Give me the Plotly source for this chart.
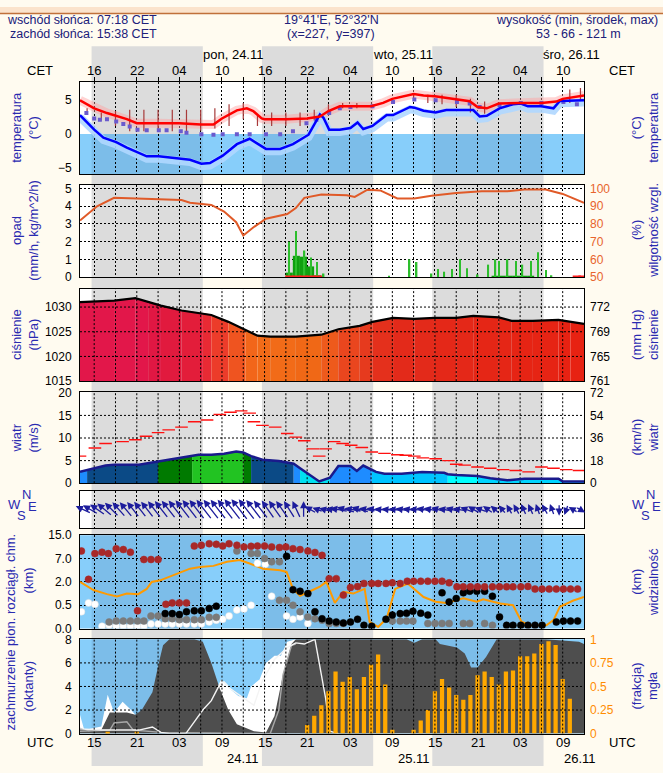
import math
import numpy as np
import plotly.graph_objects as go

# ---------------- time axis (hours after 23.11 13:00 UTC) ----------------
T_END = 71
grid_t = list(range(2, 71, 3))
time_tick_t = [2, 8, 14, 20, 26, 32, 38, 44, 50, 56, 62, 68]
utc_labels = ["15", "21", "03", "09"] * 3
cet_labels = ["16", "22", "04", "10"] * 3
night_start = [1.63, 25.63, 49.63]
night_end = [17.3, 41.3, 65.3]
top_day_labels = ["pon, 24.11", "wto, 25.11", "śro, 26.11"]
bottom_day_labels = ["24.11", "25.11", "26.11"]
bottom_day_t = [23, 47, 70.4]

# ---------------- temperature ----------------
temp_t = [0, 2, 3.8, 5, 6.6, 8, 11, 14, 17, 18.8, 20, 22.1, 23.5, 24.4, 25.6, 26, 29, 32, 33.8, 35,
          36.6, 38, 41, 42.7, 44, 47, 48.4, 50, 53, 54.9, 56, 57.3, 59, 60.6, 62, 65, 67.1, 68, 71]
temp_v = [5.0, 3.8, 3.1, 2.7, 2.2, 1.6, 1.6, 1.6, 1.4, 1.4, 2.3, 3.5, 3.8, 3.4, 2.3, 2.2, 2.2, 2.3, 2.6, 3.4,
          4.1, 4.1, 4.1, 4.6, 5.2, 5.9, 5.7, 5.6, 5.2, 4.85, 4.0, 3.8, 4.5, 4.6, 4.6, 4.6, 4.8, 5.2, 5.7]
dew_t = [0, 2, 3.3, 5.1, 6.6, 8.1, 9.4, 11.1, 12.2, 14.2, 15.5, 17.1, 18.3, 20.1, 22.1, 23.9, 24.9, 26.2,
         28.2, 30.0, 32.2, 33.8, 34.3, 35.1, 36.6, 38.1, 39.1, 39.9, 41.2, 43.2, 44.1, 46.5, 47.1, 48.4,
         50.1, 51.6, 53.1, 55.4, 56.3, 57.3, 59.1, 61.0, 62.1, 63.1, 65.0, 66.7, 67.6, 71]
dew_v = [2.8, 0.65, -0.55, -1.2, -2.0, -2.7, -3.3, -3.3, -3.45, -3.7, -3.8, -4.4, -4.3, -3.2, -1.5, -0.7,
         -1.3, -2.2, -2.2, -1.5, -0.1, 2.9, 2.4, 0.65, 0.65, 0.9, 1.7, 0.75, 1.2, 2.8, 2.8, 4.0, 3.9, 3.45,
         3.2, 3.55, 3.55, 3.55, 2.6, 2.7, 3.8, 4.4, 4.5, 4.1, 4.1, 3.8, 4.9, 5.0]
wetb_t = [0.9, 2.0, 2.8, 3.8, 5.1, 6.1, 7.0, 8.1, 9.4, 11.1, 12.2, 14.2, 15.0, 17.1, 18.8, 20.1, 22.1,
          23.9, 26.2, 28.2, 30.0, 31.9, 33.3, 35.1, 36.6, 38.1, 41.2, 44.1, 47.1, 50.1, 53.1, 54.9,
          56.3, 59.1, 62.1, 65.0, 68.1, 70.0]
wetb_v = [3.1, 2.3, 2.1, 2.2, 1.85, 1.5, 1.1, 0.65, 0.55, 0.55, 0.55, 0.4, 0.2, -0.05, -0.1, -0.05,
          -0.05, -0.05, -0.05, -0.05, 0.4, 1.6, 2.1, 3.1, 3.8, 4.0, 4.1, 4.75, 5.1, 5.0, 4.75, 4.5,
          4.0, 4.25, 4.6, 4.6, 4.75, 4.4]
whisk_t = [1, 3, 5, 7, 9, 11, 13, 15, 17, 19, 21, 23, 25, 27, 29, 31, 33, 35, 37, 39, 47, 49, 51,
           53, 55, 57, 69, 70.5]
whisk_lo = [2.8, 2.0, 1.2, 0.4, 0.4, 0.4, 0.4, 0.4, 0.5, 0.8, 1.2, 2.2, 1.2, 1.2, 1.2, 1.2, 2.0,
            3.2, 3.8, 3.8, 5.0, 4.6, 4.4, 4.0, 3.2, 3.0, 4.6, 5.0]
whisk_hi = [3.8, 3.2, 3.4, 3.6, 3.6, 3.6, 3.6, 3.6, 3.6, 3.8, 4.4, 4.6, 2.8, 3.2, 3.2, 3.2, 3.6,
            4.4, 4.6, 4.6, 5.8, 5.8, 5.8, 5.8, 5.2, 4.8, 6.6, 6.8]

# ---------------- precipitation / humidity ----------------
hum_t = [0, 2.4, 4.8, 8.3, 14.3, 15.5, 18.5, 20.3, 22.0, 23.0, 24.4, 26.2, 29.2, 30.4, 31.6, 34.0,
         37.6, 38.7, 40.5, 42.3, 44.7, 47.1, 49.5, 53.0, 56.6, 60.2, 62.6, 65.6, 68.0, 71]
hum_v = [82, 90, 94.8, 94.3, 93.5, 92, 90.8, 87, 81, 73.5, 78, 83, 85.6, 89, 94.8, 96.7,
         96.3, 95.3, 99.4, 99, 94.4, 94.4, 96, 97.5, 98.5, 98.5, 99.5, 99.5, 97, 92]
prec_max_t = [29.4, 30.4, 31.6, 32.5, 33.4, 34.3, 43.5, 46.4, 47.4, 49.5, 50.4, 51.3, 52.4, 53.5,
              54.5, 56, 57.5, 58.5, 59, 60.2, 61.4, 62.3, 63.5, 64.5, 65.6, 66.4]
prec_max_v = [2.0, 2.6, 1.5, 1.1, 0.85, 0.2, 0.05, 1.0, 0.85, 0.2, 0.45, 0.3, 0.45, 1.0, 0.5, 0.15,
              0.7, 1.0, 0.9, 1.0, 0.9, 0.7, 0.9, 1.4, 0.4, 0.1]
prec_mean_t = [29.5, 30.5, 31.5, 32.5, 33.5, 58.5, 59.5, 60.5, 61.5, 62.5, 63.5]
prec_mean_v = [0.25, 1.2, 1.15, 0.6, 0.1, 0.05, 0.05, 0.05, 0.05, 0.05, 0.05]
snow_mark_t = [29.5, 30.5, 31.5, 32.5, 33.5, 70.0, 70.8]

# ---------------- pressure ----------------
pres_t = [0, 4.8, 7.8, 9.6, 11.4, 14.3, 17.3, 18.5, 20.9, 23.3, 25.0, 26.8, 30.4, 34.0, 36.4, 39.4,
          41.2, 44.1, 47.1, 50.0, 53.0, 55.4, 59.0, 60.8, 63.8, 67.4, 69.1, 71.0]
pres_v = [1031.0, 1031.3, 1031.8, 1031.0, 1030.3, 1029.3, 1028.7, 1028.4, 1027.0, 1025.3, 1024.2,
          1024.0, 1024.0, 1024.4, 1025.5, 1026.2, 1027.0, 1027.8, 1027.6, 1027.8, 1027.8, 1028.2,
          1027.9, 1027.2, 1027.2, 1027.4, 1027.0, 1026.6]
pres_seg_colors = ["#E2174A", "#E2174A", "#E2174A", "#E11743", "#E11A3E", "#E31D3A", "#E82A34",
                   "#EC3C2A", "#EF5420", "#F2661A", "#F26B18", "#F26B18", "#F06816", "#EE5A1C",
                   "#EA461E", "#E63A1E", "#E4301C", "#E32A1A", "#E32A1A", "#E42818", "#E42818",
                   "#E52616", "#E52616", "#E62414", "#E62414", "#E72212", "#E72212"]

# ---------------- wind ----------------
wind_t = [0, 1.0, 3.6, 4.8, 8.3, 11.0, 14.3, 15.8, 16.7, 18.5, 20.3, 22.0, 23.0, 24.1, 25.7, 28.0,
          30.1, 31.0, 33.7, 35.2, 36.4, 38.1, 39.0, 39.9, 41.1, 41.7, 42.9, 45.3, 48.2, 51.3, 51.8,
          53.0, 56.0, 57.8, 60.2, 62.6, 67.4, 68.0, 71.0]
wind_v = [2.55, 2.9, 3.9, 4.1, 4.1, 4.8, 5.7, 6.0, 6.3, 6.3, 6.5, 7.0, 6.8, 6.0, 5.2, 4.9, 4.3,
          3.3, 0.4, 1.2, 3.8, 3.8, 2.7, 3.9, 3.0, 2.5, 2.1, 2.1, 2.5, 2.3, 2.0, 1.8, 1.6, 1.1, 0.65,
          1.0, 1.0, 0.4, 0.4]
wind_seg = [(0, 1.0, "#1E8CFF"), (1.0, 11.0, "#0B4A86"), (11.0, 15.8, "#007A00"),
            (15.8, 23.0, "#22C322"), (23.0, 24.1, "#007A00"), (24.1, 30.1, "#0B4A86"),
            (30.1, 31.0, "#1E8CFF"), (31.0, 35.2, "#00E0F0"), (35.2, 41.1, "#1E8CFF"),
            (41.1, 51.8, "#00C4FF"), (51.8, 56.0, "#00FFFF"), (56.0, 71.0, "#00D4FF")]
gust_t = [0, 2.1, 3.6, 6.0, 7.8, 9.3, 11.0, 12.5, 14.3, 16.1, 17.9, 19.7, 21.2, 22.7, 23.9, 24.5,
          25.7, 27.5, 29.2, 30.4, 31.6, 32.8, 33.7, 34.6, 35.8, 37.0, 38.2, 39.7, 41.1, 42.9, 44.7,
          45.9, 47.1, 48.3, 50.1, 51.9, 53.0, 54.2, 56.0, 57.8, 59.6, 61.4, 63.2, 65.0, 66.7, 68.5, 70.3]
gust_v = [6.0, 7.8, 8.8, 9.2, 9.6, 10.4, 11.2, 11.8, 12.4, 13.6, 14.0, 15.2, 15.7, 16.0, 15.5, 13.6,
          12.8, 12.4, 11.0, 10.2, 9.4, 7.6, 6.0, 7.6, 9.2, 8.8, 8.4, 7.9, 6.9, 6.6, 6.3, 6.2, 6.0, 5.6,
          5.4, 5.0, 4.2, 4.0, 3.6, 3.3, 3.0, 2.8, 2.5, 3.6, 3.3, 3.0, 2.8]

# ---------------- wind direction (bearing the arrow points to; speed m/s) ----------------
arrow_t = [0.5, 1.5, 2.5, 3.5, 4.5, 5.5, 6.5, 7.5, 8.5, 9.5, 10.5, 11.5, 12.5, 13.5, 14.5, 15.5,
           16.5, 17.5, 18.5, 19.5, 20.5, 21.5, 22.5, 23.5, 24.5, 25.5, 26.5, 27.5, 28.5, 29.5, 30.5,
           31.5, 32.5, 33.5, 34.5, 35.5, 36.5, 37.5, 38.5, 39.5, 40.5, 41.5, 42.5, 43.5, 44.5, 45.5,
           46.5, 47.5, 48.5, 49.5, 50.5, 51.5, 52.5, 53.5, 54.5, 55.5, 56.5, 57.5, 58.5, 59.5, 60.5,
           61.5, 62.5, 63.5, 64.5, 65.5, 66.5, 67.5, 68.5, 69.5, 70.5]
arrow_dir = [295, 300, 305, 310, 315, 318, 320, 322, 322, 322, 322, 322, 322, 322, 322, 322,
             322, 322, 322, 322, 322, 322, 322, 322, 322, 322, 325, 325, 325, 328, 335,
             0, 300, 290, 285, 280, 280, 285, 280, 285, 280, 280, 275, 275, 275, 280,
             280, 275, 280, 280, 285, 280, 285, 280, 290, 300, 290, 305, 310, 320, 330,
             330, 335, 335, 340, 330, 340, 180, 200, 300, 120]
arrow_spd = [3.0, 3.2, 3.6, 4.0, 4.1, 4.1, 4.1, 4.1, 4.2, 4.4, 4.7, 5.0, 5.3, 5.6, 5.8, 6.0,
             6.2, 6.3, 6.3, 6.4, 6.5, 6.8, 7.0, 6.8, 6.2, 5.5, 5.1, 5.0, 4.8, 4.4, 3.8,
             3.0, 1.5, 0.6, 0.9, 1.5, 3.5, 3.8, 3.2, 3.5, 3.0, 2.6, 2.2, 2.1, 2.1, 2.1,
             2.2, 2.4, 2.5, 2.4, 2.3, 2.1, 1.9, 1.8, 1.7, 1.6, 1.4, 1.1, 0.9, 0.7, 0.8,
             1.0, 1.0, 1.0, 1.0, 1.0, 1.0, 0.8, 0.5, 0.4, 0.4]

# ---------------- cloud base / visibility ----------------
vis_t = [0, 1.9, 3.8, 5.2, 6.6, 8.2, 9.4, 10.1, 11.3, 13.1, 15.5, 16.9, 18.8, 20.7, 22.5, 23.9, 25.8,
         28.2, 29.1, 30.0, 31.0, 32.4, 33.8, 34.7, 35.9, 37.1, 38.5, 40.1, 40.8, 42.0, 43.2, 44.4,
         45.8, 46.2, 48.4, 50.1, 51.6, 54.0, 55.9, 56.8, 59.2, 61.0, 62.2, 63.4, 65.7, 66.7, 67.6,
         69.5, 71]
vis_km = [5.0, 3.6, 2.9, 2.5, 3.0, 2.9, 3.8, 5.0, 6.0, 9.3, 13.5, 14.6, 15.3, 17.9, 19.0, 16.8, 13.5,
          12.5, 11.4, 3.8, 2.6, 3.4, 4.2, 5.0, 1.4, 3.3, 3.0, 3.8, 0.29, 0.07, 0.43, 3.8, 4.6, 4.7,
          2.4, 1.6, 1.4, 2.2, 1.6, 2.0, 1.3, 1.0, 0.29, 0.14, 0.14, 0.36, 0.93, 1.8, 2.4]
cb_red_t = [0.2, 2.1, 3.1, 4.0, 5.1, 6.1, 7.1, 9.0, 10.0, 11.0, 16.1, 17.1, 18.2, 19.2, 20.1, 21.0,
            22.1, 23.1, 24.1, 25.0, 26.0, 27.0, 28.1, 29.0, 30.0, 31.0, 32.1, 33.1, 34.1,
            1.2, 8.1, 12.1, 13.0, 14.0, 15.0, 35.1, 36.1, 37.1, 38.1, 39.1, 40.0, 41.1, 42.0, 43.1,
            44.0, 45.1, 46.1, 47.0, 48.0, 49.0, 50.0, 51.0, 52.0, 53.1, 54.0, 55.0, 56.0, 57.0, 58.1,
            59.1, 60.1, 61.0, 62.1, 63.1, 64.1, 65.1, 66.1, 67.1, 68.1, 69.1, 70.1]
cb_red_km = [9.6, 8.7, 9.2, 8.7, 10.4, 10.1, 9.2, 6.8, 6.8, 6.8, 11.3, 11.6, 12.1, 11.9, 11.3, 12.1,
             11.6, 11.0, 11.2, 11.3, 11.3, 11.0, 10.8, 11.0, 10.4, 10.1, 9.6, 9.1, 8.1,
             2.55, 0.38, 0.56, 0.65, 0.65, 0.65, 2.7, 2.7, 1.15, 1.64, 1.7, 1.9, 1.9, 1.9, 1.9,
             1.94, 1.9, 2.15, 2.15, 2.15, 2.15, 2.15, 2.15, 1.94, 1.68, 1.68, 1.68, 1.68, 1.68, 1.68,
             1.68, 1.68, 1.68, 1.68, 1.71, 1.54, 1.54, 1.54, 1.54, 1.54, 1.54, 1.54]
cb_black_t = [12.0, 13.0, 14.0, 15.0, 16.1, 17.1, 18.2, 19.2, 29.1, 30.0, 31.0, 32.1, 33.1, 34.1,
              35.1, 36.1, 37.1, 38.1, 39.1, 40.0, 41.1, 43.1, 44.0, 45.1, 46.0, 46.9, 48.0, 49.0,
              51.0, 52.0, 53.0, 54.0, 54.9, 55.9, 57.0, 58.1, 59.1, 60.1, 61.0, 62.1, 63.1, 64.1,
              65.1, 67.1, 68.1, 69.1, 70.1]
cb_black_km = [0.32, 0.32, 0.3, 0.36, 0.38, 0.38, 0.43, 0.48, 7.8, 1.5, 1.4, 1.25, 0.36, 0.21,
               0.16, 0.14, 0.12, 0.14, 0.2, 0.07, 0.05, 0.2, 0.29, 0.32, 0.33, 0.37, 0.33, 0.29,
               1.3, 0.71, 0.93, 1.3, 1.4, 1.4, 1.4, 1.08, 0.25, 0.07, 0.07, 0.07, 0.07, 0.07,
               0.07, 0.14, 0.16, 0.16, 0.16]
cb_gray_t = [4.1, 5.1, 6.1, 7.1, 8.1, 9.0, 10.0, 11.0, 12.0, 13.0, 14.0, 15.0, 16.1, 17.1, 18.2,
             19.2, 22.1, 24.1, 25.0, 26.0, 27.0, 28.1, 28.1, 29.1, 30.0, 31.0, 32.1, 33.1, 34.1,
             35.1, 36.1, 37.1, 44.0, 45.1, 46.0, 46.9, 49.0, 50.0, 51.0, 52.0, 54.0, 54.9, 57.0, 58.1]
cb_gray_km = [0.14, 0.16, 0.16, 0.16, 0.16, 0.16, 0.27, 0.27, 0.21, 0.21, 0.19, 0.19, 0.19, 0.19,
              0.24, 0.24, 9.6, 8.7, 8.7, 7.0, 6.3, 6.3, 0.82, 0.82, 0.5, 0.36, 0.25, 0.21, 0.18,
              0.11, 0.11, 0.11, 0.16, 0.16, 0.16, 0.16, 0.11, 0.11, 0.11, 0.11, 0.11, 0.11, 0.11, 0.07]
cb_white_t = [0.2, 1.2, 2.1, 3.1, 4.1, 5.1, 6.1, 7.1, 8.1, 9.0, 10.0, 11.0, 12.0, 13.0, 14.0, 15.0,
              16.1, 17.1, 18.2, 19.2, 20.1, 21.0, 22.1, 23.1, 24.1, 25.0, 26.1, 27.0, 29.1, 30.0,
              31.0, 32.1]
cb_white_km = [0.36, 0.65, 0.56, 0.05, 0.07, 0.05, 0.05, 0.05, 0.05, 0.05, 0.1, 0.1, 0.1, 0.1, 0.1,
               0.1, 0.1, 0.1, 0.14, 0.18, 0.2, 0.27, 0.4, 0.42, 0.5, 6.0, 5.8, 1.08, 0.27, 0.2,
               0.25, 0.11]
cb_km_ticks = [0, 0.5, 2, 7, 15]
vis_km_ticks = [0, 1, 5, 20, 100]

# ---------------- cloud cover / fog ----------------
cover_t = [0, 1.2, 3.0, 4.2, 6.6, 7.8, 8.7, 10.2, 11.1, 11.7, 12.6, 16.1, 17.3, 18.5, 19.7, 20.9,
           22.1, 24.5, 26.2, 27.4, 28.6, 29.8, 30.4, 46.0, 47.1, 48.2, 50.1, 50.7, 53.1, 54.2, 55.1,
           56.0, 57.2, 58.7, 65.6, 70.3, 71]
cover_v = [0.5, 0.2, 0.3, 1.8, 1.8, 1.6, 2.0, 3.5, 6.0, 7.5, 8, 8, 7.8, 6.0, 3.8, 2.0, 0.8, 0.2, 0.1,
           1.5, 5.0, 7.6, 8, 8, 7.7, 8, 8, 7.6, 7.3, 6.8, 5.6, 5.6, 6.5, 8, 8, 7.8, 7.6]
low_t = [0, 0.6, 3.0, 3.9, 4.8, 6.0, 7.2, 7.8, 8.5, 17.8, 18.5, 19.9, 21.1, 22.3, 23.5, 24.1, 25.3,
         26.2, 27.4, 28.3, 29.2, 30.4, 31]
low_v = [1.6, 0.3, 0.6, 3.3, 1.8, 2.7, 2.0, 1.6, 0.0, 0.0, 3.0, 4.6, 3.8, 3.2, 3.0, 4.0, 4.6, 6.0, 6.6,
         6.6, 7.8, 8, 0]
wline_t = [0, 3.0, 6.6, 8.3, 10.2, 11.4, 12.6, 14.9, 16.1, 17.3, 18.5, 19.7, 20.3, 21.2, 24.5, 25.7,
           27.4, 29.2, 30.4, 31.6, 33.1, 34.0, 34.6, 35.2, 36.4]
wline_v = [0.4, 0.3, 0.3, 0.3, 0.56, 0.1, 0, 0, 1.0, 2.0, 2.8, 4.2, 4.4, 3.8, 2.4, 4.5, 6.3, 7.3, 7.7,
           7.6, 8.0, 5.0, 3.0, 0.2, 0]
gline_t = [0, 4.2, 4.8, 6.6, 7.5, 11.4, 26.8, 28.0, 28.6, 29.8, 30.4]
gline_v = [0.2, 0.3, 0.9, 1.0, 0.3, 0.1, 0.0, 2.0, 5.0, 7.5, 7.6]
fog_t = [3.9, 8.0] + list(range(32, 70))
fog_v = [0.02, 0.02, 0.09, 0.19, 0.3, 0.45, 0.66, 0.55, 0.6, 0.47, 0.6, 0.73, 0.84, 0.52, 0.04, 0, 0,
         0.04, 0.14, 0.25, 0.45, 0.58, 0.49, 0.41, 0.36, 0.41, 0.62, 0.66, 0.6, 0.52, 0.66, 0.67,
         0.82, 0.82, 0.85, 0.95, 0.98, 0.94, 0.58, 0.37]

# ---------------- layout helpers ----------------
W, H = 663, 773
X0, X1 = 80, 584
CREAM = "#FFFBF0"
NIGHT = "#DCDCDC"
LBLUE = "#87CEFA"
TITLE_C = "#2A2AB0"
ORANGE_T = "#FF8C00"
FONT = "Liberation Sans, Arial, sans-serif"
DASH = "2px,2px"
panels = {1: (76, 170), 2: (181, 275), 3: (287, 381), 4: (392, 485), 5: (493, 531),
          6: (538, 633), 7: (644, 740)}


def py(p):
    return 1 - p / H


def ax_name(kind, i):
    return kind if i == 1 else f"{kind}{i}"


fig = go.Figure()
layout = dict(width=W, height=H, margin=dict(l=0, r=0, t=0, b=0), paper_bgcolor=CREAM,
              plot_bgcolor="white", showlegend=False, font=dict(family=FONT, size=12, color="black"))

yranges = {1: [-5.9, 7.75], 2: [0, 5.22], 3: [1015, 1033.7], 4: [0, 20.2], 5: [-1, 1], 6: [0, 4],
           7: [0, 8]}
own_grid = {1: True, 2: True, 3: False, 4: False, 5: True, 6: True, 7: False}

for i in range(1, 8):
    top, bot = panels[i]
    xa = dict(domain=[X0 / W, X1 / W], range=[0, T_END], anchor=ax_name("y", i),
              showgrid=own_grid[i], gridcolor="black", griddash=DASH, gridwidth=1,
              tickvals=grid_t, showticklabels=False, ticks="", showline=True, mirror=True,
              linecolor="black", linewidth=1, zeroline=False, fixedrange=True)
    if i == 1:
        xa.update(side="top", ticks="outside", ticklen=4, tickcolor="black")
    layout["xaxis" if i == 1 else f"xaxis{i}"] = xa
    ya = dict(domain=[py(bot), py(top)], range=yranges[i], anchor=ax_name("x", i),
              showgrid=own_grid[i] and i != 1, gridcolor="black", griddash=DASH, gridwidth=1,
              showline=True, mirror=True, linecolor="black", linewidth=1, zeroline=False,
              ticks="", ticklabelstandoff=5, tickfont=dict(size=12, color="black"), fixedrange=True)
    layout["yaxis" if i == 1 else f"yaxis{i}"] = ya

layout["yaxis"].update(tickvals=[-5, 0, 5])
layout["yaxis2"].update(tickvals=[0, 1, 2, 3, 4, 5])
layout["yaxis3"].update(tickvals=[1015, 1020, 1025, 1030])
layout["yaxis4"].update(tickvals=[0, 5, 10, 15, 20])
layout["yaxis5"].update(showticklabels=False, showgrid=False)
layout["yaxis6"].update(tickvals=[0, 1, 2, 3, 4], ticktext=["0.0", "0.5", "2.0", "7.0", "15.0"])
layout["yaxis7"].update(tickvals=[0, 2, 4, 6, 8])

right = {
    1: dict(range=yranges[1], tickvals=[-5, 0, 5], color="black"),
    2: dict(range=[50, 102.2], tickvals=[50, 60, 70, 80, 90, 100], color="#E8642C"),
    3: dict(range=yranges[3], tickvals=[1015, 1020, 1025, 1030],
            ticktext=["761", "765", "769", "772"], color="black"),
    4: dict(range=yranges[4], tickvals=[0, 5, 10, 15, 20], ticktext=["0", "18", "36", "54", "72"],
            color="black"),
    5: dict(range=[-1, 1], tickvals=[], color="black"),
    6: dict(range=[0, 4], tickvals=[0, 1, 2, 3, 4], ticktext=["0", "1", "5", "20", "100"],
            color=ORANGE_T),
    7: dict(range=[0, 1], tickvals=[0, 0.25, 0.5, 0.75, 1], ticktext=["0", "0.25", "0.5", "0.75", "1"],
            color=ORANGE_T),
}
for i, r in right.items():
    ya = dict(overlaying=ax_name("y", i), side="right", anchor=ax_name("x", i), range=r["range"],
              tickvals=r["tickvals"], showgrid=False, zeroline=False, showline=False, ticks="",
              ticklabelstandoff=5, tickfont=dict(size=12, color=r["color"]), fixedrange=True)
    if "ticktext" in r:
        ya["ticktext"] = r["ticktext"]
    layout[f"yaxis{7 + i}"] = ya
layout["yaxis15"] = dict(overlaying="y", anchor="x", range=yranges[1], tickvals=[-5, 5], showgrid=True,
                         gridcolor="black", griddash=DASH, gridwidth=1, showticklabels=False,
                         ticks="", showline=False, zeroline=False, fixedrange=True)

# ---------------- shapes ----------------
shapes = []
shapes.append(dict(type="rect", xref="paper", yref="paper", x0=0, x1=1, y0=py(6), y1=1,
                   fillcolor="#FBE3CC", line=dict(width=0), layer="below"))
shapes.append(dict(type="line", xref="paper", yref="paper", x0=0, x1=1, y0=py(6.5), y1=py(6.5),
                   line=dict(color="#C0703A", width=1.5), layer="below"))
for s, e in zip(night_start, night_end):
    shapes.append(dict(type="rect", xref="x", yref="paper", x0=s, x1=e, y0=0, y1=py(40),
                       fillcolor=NIGHT, line=dict(width=0), layer="below"))
shapes.append(dict(type="rect", xref="x", yref="y", x0=0, x1=T_END, y0=-20, y1=0,
                   fillcolor=LBLUE, line=dict(width=0), layer="below"))
for s, e in zip(night_start, night_end):
    shapes.append(dict(type="rect", xref="x", yref="y", x0=s, x1=e, y0=-20, y1=0,
                       fillcolor="rgba(0,0,40,0.08)", line=dict(width=0), layer="below"))
for i in (6, 7):
    shapes.append(dict(type="rect", xref=f"x{i}", yref=f"y{i}", x0=0, x1=T_END, y0=-50, y1=50,
                       fillcolor=LBLUE, line=dict(width=0), layer="below"))
    for s, e in zip(night_start, night_end):
        shapes.append(dict(type="rect", xref=f"x{i}", yref=f"y{i}", x0=s, x1=e, y0=-50, y1=50,
                           fillcolor="rgba(0,0,40,0.08)", line=dict(width=0), layer="below"))
layout["shapes"] = shapes


def grid_trace(i, hvals, yr, yaxis):
    xs, ys = [], []
    for t in grid_t:
        xs += [t, t, None]
        ys += [yr[0], yr[1], None]
    for v in hvals:
        xs += [0, T_END, None]
        ys += [v, v, None]
    return go.Scatter(x=xs, y=ys, mode="lines", line=dict(color="black", width=1, dash=DASH),
                      xaxis=ax_name("x", i), yaxis=yaxis, hoverinfo="skip", connectgaps=False)


# ---------------- panel 1: temperature ----------------
fig.add_trace(go.Scatter(x=temp_t, y=temp_v, mode="lines", line=dict(color="rgba(255,160,160,0.45)", width=9),
                         xaxis="x", yaxis="y"))
fig.add_trace(go.Scatter(x=dew_t, y=[v - 0.35 for v in dew_v], mode="lines",
                         line=dict(color="rgba(175,215,255,0.9)", width=8), xaxis="x", yaxis="y"))
wx, wy = [], []
for t, lo, hi in zip(whisk_t, whisk_lo, whisk_hi):
    wx += [t, t, None]
    wy += [lo, hi, None]
fig.add_trace(go.Scatter(x=wx, y=wy, mode="lines", line=dict(color="#A83A3A", width=1.2),
                         xaxis="x", yaxis="y"))
fig.add_trace(go.Scatter(x=wetb_t, y=wetb_v, mode="markers",
                         marker=dict(symbol="square", size=4, color="#6A5ACD"), xaxis="x", yaxis="y"))
fig.add_trace(go.Scatter(x=dew_t, y=dew_v, mode="lines", line=dict(color="#0000FF", width=2.5),
                         xaxis="x", yaxis="y"))
fig.add_trace(go.Scatter(x=temp_t, y=temp_v, mode="lines", line=dict(color="#FF0000", width=2.5),
                         xaxis="x", yaxis="y"))

# ---------------- panel 2: precipitation & humidity ----------------
fig.add_trace(go.Bar(x=prec_mean_t, y=prec_mean_v, width=1.0, marker=dict(color="#10A010", line=dict(width=0)),
                     xaxis="x2", yaxis="y2"))
fig.add_trace(go.Bar(x=prec_max_t, y=prec_max_v, width=0.22, marker=dict(color="#2DBE2D", line=dict(width=0)),
                     xaxis="x2", yaxis="y2"))
fig.add_trace(go.Scatter(x=snow_mark_t, y=[0.03] * len(snow_mark_t), mode="markers",
                         marker=dict(symbol="line-ew", size=6, line=dict(color="#FF2020", width=2)),
                         xaxis="x2", yaxis="y2"))
fig.add_trace(go.Scatter(x=hum_t, y=hum_v, mode="lines", line=dict(color="#E05A28", width=2),
                         xaxis="x2", yaxis="y9"))

# ---------------- panel 3: pressure ----------------
for k in range(len(pres_t) - 1):
    fig.add_trace(go.Scatter(x=pres_t[k:k + 2], y=pres_v[k:k + 2], mode="lines", fill="tozeroy",
                             fillcolor=pres_seg_colors[k], line=dict(width=0.6, color=pres_seg_colors[k]),
                             xaxis="x3", yaxis="y3"))
fig.add_trace(grid_trace(3, [1020, 1025, 1030], yranges[3], "y10"))
fig.add_trace(go.Scatter(x=pres_t, y=pres_v, mode="lines", line=dict(color="black", width=2.2),
                         xaxis="x3", yaxis="y10"))

# ---------------- panel 4: wind ----------------
for a, b, c in wind_seg:
    xs = [t for t in wind_t if a <= t <= b]
    ys = [v for t, v in zip(wind_t, wind_v) if a <= t <= b]
    fig.add_trace(go.Scatter(x=xs, y=ys, mode="lines", fill="tozeroy", fillcolor=c,
                             line=dict(width=0.6, color=c), xaxis="x4", yaxis="y4"))
fig.add_trace(grid_trace(4, [5, 10, 15], yranges[4], "y11"))
fig.add_trace(go.Scatter(x=wind_t, y=wind_v, mode="lines", line=dict(color="#1A1A8C", width=2.5),
                         xaxis="x4", yaxis="y11"))
fig.add_trace(go.Scatter(x=gust_t, y=gust_v, mode="markers",
                         marker=dict(symbol="line-ew", size=9, line=dict(color="#FF1010", width=1.4)),
                         xaxis="x4", yaxis="y11"))


# ---------------- panel 6: cloud base & visibility ----------------
def km_level(v):
    return list(np.interp(v, cb_km_ticks, [0, 1, 2, 3, 4]))


fig.add_trace(go.Scatter(x=vis_t, y=list(np.interp(vis_km, vis_km_ticks, [0, 1, 2, 3, 4])), mode="lines",
                         line=dict(color="#FF9A00", width=2), xaxis="x6", yaxis="y6"))
for tt, kk, col, lc in [(cb_white_t, cb_white_km, "#FFFFFF", "#E0E0E0"),
                        (cb_gray_t, cb_gray_km, "#7A7A7A", "#7A7A7A"),
                        (cb_black_t, cb_black_km, "#000000", "#000000"),
                        (cb_red_t, cb_red_km, "#A82828", "#A82828")]:
    fig.add_trace(go.Scatter(x=tt, y=km_level(kk), mode="markers",
                             marker=dict(size=7, color=col, line=dict(width=0.5, color=lc)),
                             xaxis="x6", yaxis="y6"))

# ---------------- panel 7: cloud cover & fog ----------------
fig.add_trace(go.Scatter(x=low_t, y=low_v, mode="lines", fill="tozeroy", fillcolor="#FFFFFF",
                         line=dict(width=0, color="#FFFFFF"), xaxis="x7", yaxis="y7"))
fig.add_trace(go.Scatter(x=cover_t, y=cover_v, mode="lines", fill="tozeroy", fillcolor="#4E4E4E",
                         line=dict(width=0, color="#4E4E4E"), xaxis="x7", yaxis="y7"))
fig.add_trace(go.Scatter(x=gline_t, y=gline_v, mode="lines", line=dict(color="#A8A8A8", width=1.4),
                         xaxis="x7", yaxis="y7"))
fig.add_trace(go.Scatter(x=wline_t, y=wline_v, mode="lines", line=dict(color="#F4F4F4", width=1.4),
                         xaxis="x7", yaxis="y7"))
fig.add_trace(go.Bar(x=fog_t, y=fog_v, width=0.6, marker=dict(color="#FFA800", line=dict(width=0)),
                     xaxis="x7", yaxis="y14"))
fig.add_trace(grid_trace(7, [0.25, 0.5, 0.75], [0, 1], "y14"))

# ---------------- annotations ----------------
ann = []


def txt(x, y, s, size=12, color="black", angle=0, xanchor="center", xref="paper"):
    ann.append(dict(x=x / W if xref == "paper" else x, y=py(y), text=s, showarrow=False,
                    font=dict(size=size, color=color, family=FONT), textangle=angle,
                    xanchor=xanchor, yanchor="middle", xref=xref, yref="paper"))


HC = "#20207A"
txt(159, 13, "wschód słońca: 07:18 CET", size=12.5, color=HC, xanchor="right")
txt(159, 27, "zachód słońca: 15:38 CET", size=12.5, color=HC, xanchor="right")
txt(331, 13, "19°41'E, 52°32'N", size=12.5, color=HC)
txt(331, 27, "(x=227,  y=397)", size=12.5, color=HC)
txt(660, 13, "wysokość (min, środek, max)", size=12.5, color=HC, xanchor="right")
txt(578, 27, "53 - 66 - 121 m", size=12.5, color=HC)

txt(40, 65, "CET", size=13)
txt(622, 65, "CET", size=13)
txt(40, 749, "UTC", size=13)
txt(622, 749, "UTC", size=13)
for t, c, u in zip(time_tick_t, cet_labels, utc_labels):
    txt(t, 65, c, size=13, xref="x")
    txt(t, 749, u, size=13, xref="x")
for t, s in zip(night_end, top_day_labels):
    txt(t - 0.3, 48, s, size=13, xref="x", xanchor="left")
for t, s in zip(bottom_day_t, bottom_day_labels):
    txt(t, 765, s, size=13, xref="x")

left_titles = {1: "temperatura<br>(°C)", 2: "opad<br>(mm/h, kg/m^2/h)", 3: "ciśnienie<br>(hPa)",
               4: "wiatr<br>(m/s)"}
right_titles = {1: "(°C)<br>temperatura", 2: "(%)<br>wilgotność wzgl.", 3: "(mm Hg)<br>ciśnienie",
                4: "(km/h)<br>wiatr", 6: "(km)<br>widzialność", 7: "(frakcja)<br>mgła"}
for i, s in left_titles.items():
    top, bot = panels[i]
    txt(25, (top + bot) / 2, s, size=13, color=TITLE_C, angle=-90)
for i, s in right_titles.items():
    top, bot = panels[i]
    txt(645, (top + bot) / 2, s, size=13, color=TITLE_C, angle=-90)
txt(10, 637, "zachmurzenie pion. rozciągł. chm.", size=13, color=TITLE_C, angle=-90)
txt(28, 584, "(km)", size=13, color=TITLE_C, angle=-90)
txt(28, 692, "(oktanty)", size=13, color=TITLE_C, angle=-90)
for cx in (20, 644):
    txt(cx + 6, 497, "N", size=13, color=TITLE_C)
    txt(cx - 6, 507, "W", size=13, color=TITLE_C)
    txt(cx + 12, 509, "E", size=13, color=TITLE_C)
    txt(cx + 1, 518, "S", size=13, color=TITLE_C)

# wind direction arrows (length grows with wind speed)
for t, d, v in zip(arrow_t, arrow_dir, arrow_spd):
    L = 10 + 2.4 * v
    sx, sy = math.sin(math.radians(d)), math.cos(math.radians(d))
    ann.append(dict(x=t, y=0, xref="x5", yref="y5", text="", showarrow=True, arrowhead=2,
                    arrowsize=1.1, arrowwidth=1.3, arrowcolor="#1C1C9C", ax=-L * sx, ay=L * sy,
                    xshift=L / 2 * sx, yshift=L / 2 * sy, standoff=0))
layout["annotations"] = ann

fig.update_layout(**layout)
fig.write_html("out.html", config={"displayModeBar": False},
               post_script="document.body.style.margin='0';document.body.style.overflow='hidden';")
